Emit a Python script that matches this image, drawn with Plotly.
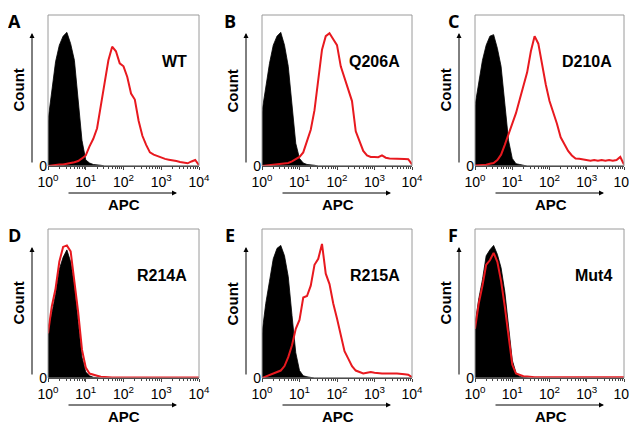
import numpy as np
import plotly.graph_objects as go

# bin centres on the APC axis, in decades (log10)
apc_log = [0.0, 0.1, 0.2, 0.3, 0.4, 0.5, 0.6, 0.7, 0.8, 0.9,
           1.0, 1.1, 1.2, 1.3, 1.4, 1.5, 1.6, 1.7, 1.8, 1.9,
           2.0, 2.1, 2.2, 2.3, 2.4, 2.5, 2.6, 2.7, 2.8, 2.9,
           3.0, 3.1, 3.2, 3.3, 3.4, 3.5, 3.6, 3.7, 3.8, 3.9, 4.0]

panel_letters = ['A', 'B', 'C', 'D', 'E', 'F']
sample_names = ['WT', 'Q206A', 'D210A', 'R214A', 'R215A', 'Mut4']

# isotype control (black filled), relative counts
ctrl_A = [0.30, 0.51, 0.69, 0.80, 0.86, 0.885, 0.81, 0.70, 0.44, 0.17, 0.04, 0.02, 0.01, 0.005, 0.005] + [0] * 26
ctrl_B = [0.36, 0.52, 0.68, 0.80, 0.86, 0.885, 0.80, 0.66, 0.40, 0.15, 0.05, 0.02, 0.01, 0.005, 0.005] + [0] * 26
ctrl_C = [0.40, 0.55, 0.70, 0.80, 0.86, 0.87, 0.78, 0.66, 0.40, 0.17, 0.05, 0.015, 0.01, 0.005] + [0] * 27
ctrl_D = [0.33, 0.43, 0.56, 0.73, 0.81, 0.86, 0.78, 0.62, 0.37, 0.14, 0.04, 0.015, 0.005] + [0] * 28
ctrl_E = [0.30, 0.50, 0.65, 0.80, 0.87, 0.89, 0.82, 0.68, 0.42, 0.17, 0.05, 0.015, 0.008, 0.003] + [0] * 27
ctrl_F = [0.36, 0.53, 0.66, 0.82, 0.86, 0.89, 0.83, 0.74, 0.58, 0.33, 0.12, 0.035, 0.01, 0.005] + [0] * 27

# stained sample (red outline), relative counts
stain_A = [0.0, 0.005, 0.007, 0.01, 0.01, 0.013, 0.02, 0.025, 0.033, 0.05,
           0.07, 0.13, 0.18, 0.25, 0.39, 0.55, 0.70, 0.79, 0.76, 0.68,
           0.66, 0.59, 0.48, 0.44, 0.30, 0.20, 0.14, 0.09, 0.075, 0.065,
           0.055, 0.047, 0.042, 0.035, 0.033, 0.027, 0.022, 0.018, 0.03, 0.04, 0.005]
stain_B = [0.0, 0.003, 0.005, 0.007, 0.01, 0.012, 0.015, 0.02, 0.03, 0.045,
           0.06, 0.09, 0.17, 0.24, 0.37, 0.57, 0.77, 0.86, 0.88, 0.84,
           0.80, 0.66, 0.58, 0.51, 0.43, 0.23, 0.17, 0.10, 0.07, 0.06,
           0.06, 0.058, 0.07, 0.055, 0.05, 0.05, 0.05, 0.05, 0.047, 0.045, 0.01]
stain_C = [0.004, 0.005, 0.007, 0.009, 0.015, 0.02, 0.04, 0.075, 0.14, 0.21,
           0.28, 0.35, 0.44, 0.53, 0.62, 0.76, 0.86, 0.81, 0.67, 0.54,
           0.43, 0.36, 0.28, 0.19, 0.14, 0.10, 0.07, 0.05, 0.048, 0.042,
           0.04, 0.035, 0.04, 0.035, 0.04, 0.035, 0.04, 0.035, 0.04, 0.06, 0.01]
stain_D = [0.30, 0.48, 0.60, 0.78, 0.88, 0.89, 0.85, 0.66, 0.44, 0.19,
           0.07, 0.03, 0.02, 0.015, 0.008, 0.005] + [0.003] * 25
stain_E = [0.0, 0.01, 0.02, 0.03, 0.04, 0.05, 0.08, 0.14, 0.22, 0.33,
           0.39, 0.54, 0.55, 0.62, 0.76, 0.80, 0.90, 0.70, 0.63, 0.50,
           0.40, 0.28, 0.18, 0.13, 0.08, 0.05, 0.04, 0.03, 0.035, 0.04,
           0.035, 0.03, 0.03, 0.03, 0.028, 0.03, 0.03, 0.025, 0.025, 0.022, 0.005]
stain_F = [0.33, 0.50, 0.62, 0.76, 0.79, 0.84, 0.78, 0.65, 0.48, 0.27,
           0.09, 0.03, 0.02, 0.012, 0.01] + [0.005] * 26

controls = [ctrl_A, ctrl_B, ctrl_C, ctrl_D, ctrl_E, ctrl_F]
stains = [stain_A, stain_B, stain_C, stain_D, stain_E, stain_F]

tick_vals = [1, 10, 100, 1000, 10000]
tick_text = ['10<sup>0</sup>', '10<sup>1</sup>', '10<sup>2</sup>', '10<sup>3</sup>', '10<sup>4</sup>']

# the page body has an 8px margin, so the figure is drawn 8px smaller and
# every pixel position below is shifted back by that amount
PAD = 8
W, H = 637 - PAD, 433 - PAD
# panel boxes in page pixels (left, right, top, bottom)
cols = [(48, 199), (262, 412), (475, 624)]
rows = [(15, 166), (229, 378)]
letter_x = [15, 230, 453]
letter_y = [8, 222]


def px(x):
    return (x - PAD) / W


def py(y):
    return 1 - (y - PAD) / H


apc = 10 ** np.array(apc_log)

fig = go.Figure()
annotations = []
shapes = []
for i in range(6):
    r, c = divmod(i, 3)
    x0, x1 = cols[c]
    y0, y1 = rows[r]
    n = '' if i == 0 else str(i + 1)
    xa, ya = 'x' + n, 'y' + n

    fig.add_trace(go.Scatter(x=apc, y=controls[i], xaxis=xa, yaxis=ya, mode='lines',
                             line=dict(color='black', width=0.8), fill='tozeroy',
                             fillcolor='black', showlegend=False))
    fig.add_trace(go.Scatter(x=apc, y=stains[i], xaxis=xa, yaxis=ya, mode='lines',
                             line=dict(color='#e8191f', width=2), showlegend=False))

    fig.update_layout({
        'xaxis' + n: dict(domain=[px(x0), px(x1)], type='log', range=[0, 4], anchor=ya,
                          automargin=False,
                          tickvals=tick_vals, ticktext=tick_text, ticks='outside', ticklen=3,
                          minor=dict(ticks='outside', ticklen=2, dtick='D1'),
                          showgrid=False, zeroline=False, showline=True, linecolor='black',
                          linewidth=1, tickfont=dict(family='Liberation Sans', size=14, color='black')),
        'yaxis' + n: dict(domain=[py(y1), py(y0)], range=[0, 1], anchor=xa,
                          automargin=False,
                          tickvals=[0], ticktext=['0'], ticks='', showgrid=False,
                          zeroline=False, showline=False,
                          tickfont=dict(family='Liberation Sans', size=14, color='black')),
    })

    # grey box round the plot
    shapes.append(dict(type='rect', xref=xa + ' domain', yref=ya + ' domain',
                       x0=0, x1=1, y0=0, y1=1, line=dict(color='#9a9a9a', width=1)))

    # axis arrows (tail offset in pixels from the head)
    annotations.append(dict(xref='paper', yref='paper', axref='pixel', ayref='pixel',
                            x=px(x0 - 16), y=py(y0 + 18),
                            ax=0, ay=(y1 - 2) - (y0 + 18),
                            showarrow=True, arrowhead=2, arrowsize=1, arrowwidth=1,
                            arrowcolor='black', text=''))
    annotations.append(dict(xref='paper', yref='paper', axref='pixel', ayref='pixel',
                            x=px(x0 + 129), y=py(y1 + 27),
                            ax=-110, ay=0,
                            showarrow=True, arrowhead=2, arrowsize=1, arrowwidth=1,
                            arrowcolor='black', text=''))

    bold = dict(family='Liberation Sans', size=15, color='black')
    annotations.append(dict(xref='paper', yref='paper', x=px(x0 - 30), y=py((y0 + y1) / 2),
                            xanchor='center', yanchor='middle',
                            text='<b>Count</b>', textangle=-90, showarrow=False, font=bold))
    annotations.append(dict(xref='paper', yref='paper', x=px(x0 + 76), y=py(y1 + 38),
                            xanchor='center', yanchor='middle',
                            text='<b>APC</b>', showarrow=False, font=bold))
    annotations.append(dict(xref='paper', yref='paper', x=px(x1 - 10), y=py(y0 + 46),
                            xanchor='right', yanchor='middle',
                            text='<b>' + sample_names[i] + '</b>',
                            showarrow=False, font=dict(family='Liberation Sans', size=16, color='black')))
    annotations.append(dict(xref='paper', yref='paper', x=px(letter_x[c]), y=py(letter_y[r]),
                            xanchor='center', yanchor='top', borderpad=0,
                            text='<b>' + panel_letters[i] + '</b>',
                            showarrow=False, font=dict(family='Open Sans', size=18, color='black')))

fig.update_layout(width=W, height=H, margin=dict(l=0, r=0, t=0, b=0),
                  paper_bgcolor='white', plot_bgcolor='white',
                  annotations=annotations, shapes=shapes)

fig.write_html('out.html')
